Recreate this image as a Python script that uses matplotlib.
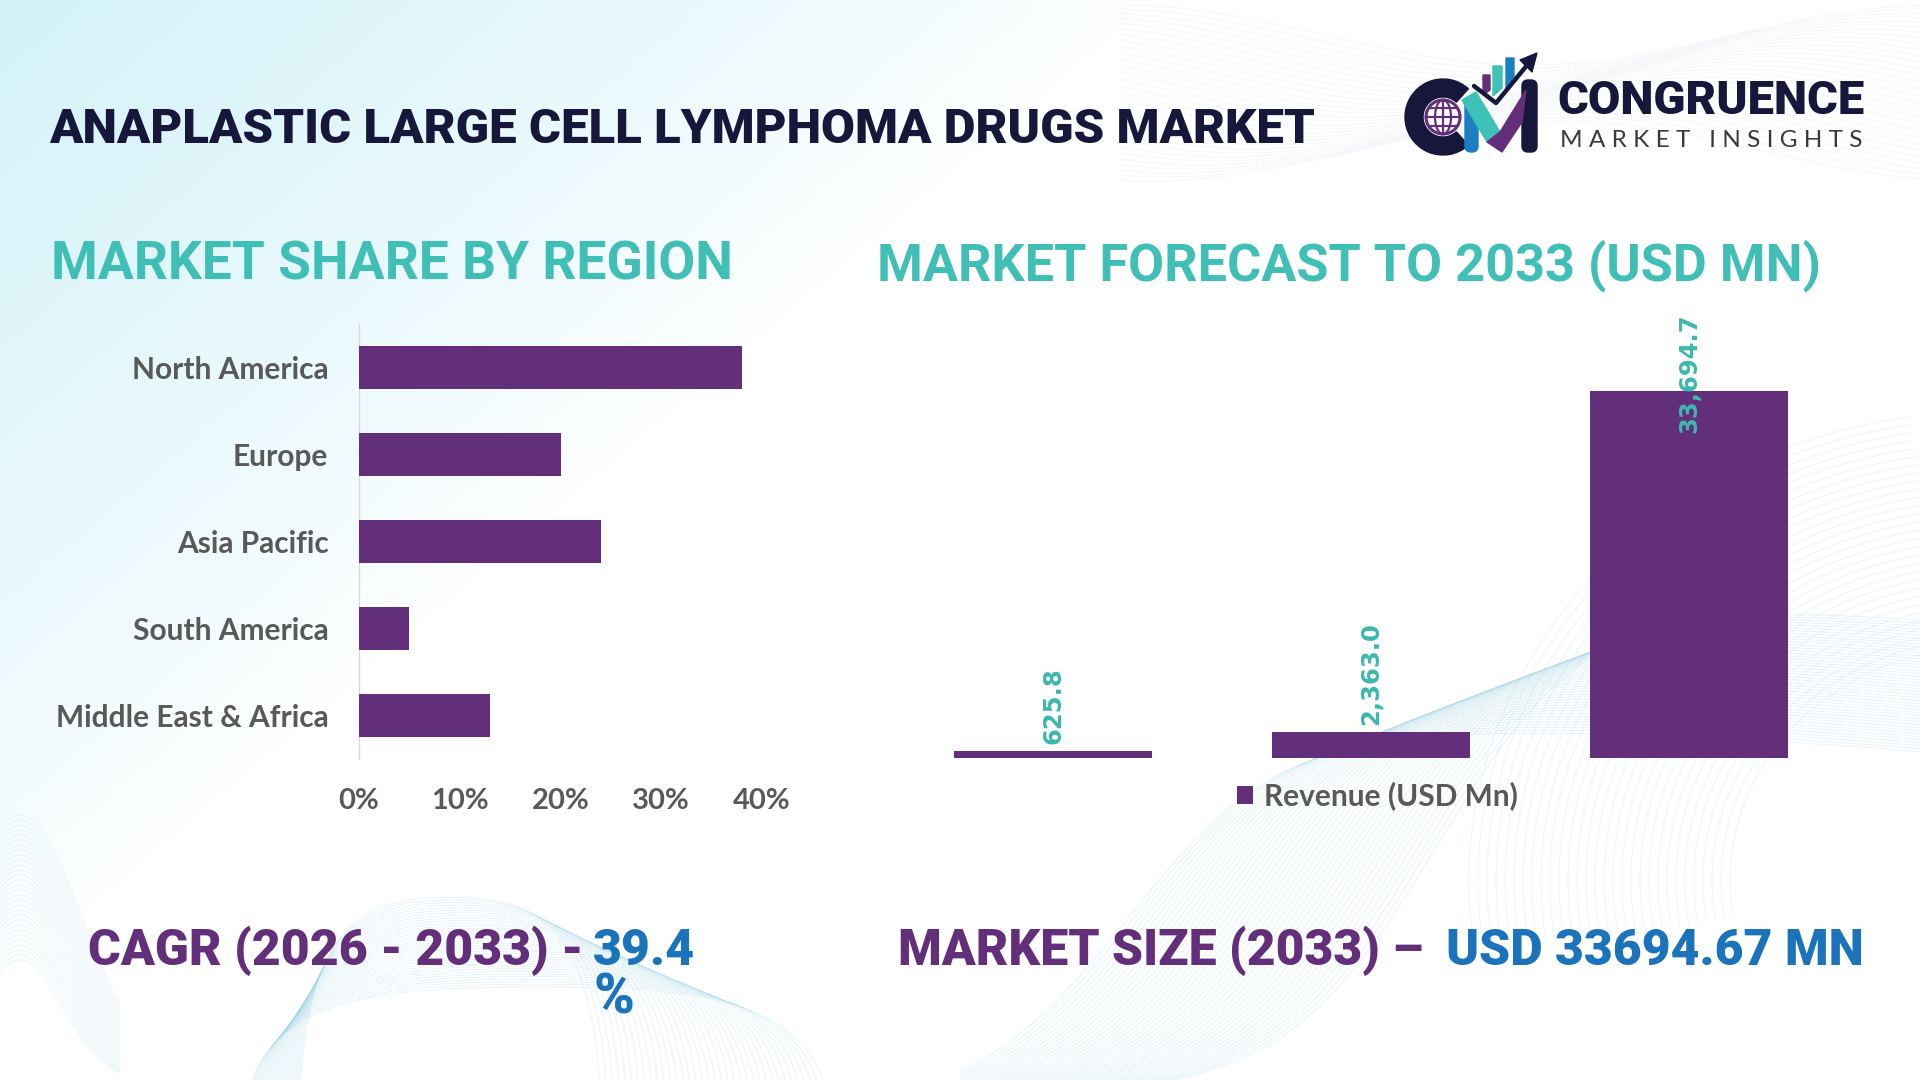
import numpy as np
import matplotlib
matplotlib.use("Agg")
import matplotlib.pyplot as plt
from matplotlib.patches import Circle, Wedge, Polygon, FancyBboxPatch

# ---------------- data ----------------
regions = ["North America", "Europe", "Asia Pacific", "South America", "Middle East & Africa"]
region_share = [38, 20, 24, 5, 13]
share_ticks = [0, 10, 20, 30, 40]
share_tick_labels = ["0%", "10%", "20%", "30%", "40%"]

forecast_points = [0, 1, 2]
revenue = [625.8, 2363.0, 33694.7]
revenue_labels = ["625.8", "2,363.0", "33,694.7"]
legend_label = "Revenue (USD Mn)"

title = "ANAPLASTIC LARGE CELL LYMPHOMA DRUGS MARKET"
left_header = "MARKET SHARE BY REGION"
right_header = "MARKET FORECAST TO 2033 (USD MN)"
cagr_prefix = "CAGR (2026 - 2033) -"
cagr_value = "39.4"
cagr_unit = "%"
size_prefix = "MARKET SIZE (2033) \u2013"
size_value = "USD 33694.67 MN"

# ---------------- style ----------------
PURPLE = "#632e7a"
TEAL = "#3fbfb5"
LABEL_TEAL = "#3cb8af"
NAVY = "#17173b"
BLUE = "#1b73bb"
GRAY = "#595959"
HEAVY = "Roboto"
LABEL_FONT = "Lato"

W, H = 1920, 1080
fig = plt.figure(figsize=(19.2, 10.8), dpi=100)
fig.patch.set_facecolor("white")

bg = fig.add_axes([0, 0, 1, 1], zorder=0)
yy, xx = np.mgrid[0:H:4, 0:W:4]
w = np.clip(1 - (xx / 1150 + yy / 980), 0, 1) ** 0.8
c0 = np.array([1.0, 1.0, 1.0])
c1 = np.array([0.83, 0.95, 0.975])
img = c0 + (c1 - c0) * w[..., None]
bg.imshow(img, extent=[0, W, H, 0], origin="upper", aspect="auto", zorder=0)
bg.set_xlim(0, W)
bg.set_ylim(H, 0)
bg.axis("off")

# decorative wave meshes
wave_c = "#8ccbe0"
t = np.linspace(0, np.pi, 200)
for k in range(36):
    a = 150 + 4 * k
    b = 250 - 3 * k
    cx = 450 + 2.5 * k
    bg.plot(cx + a * np.cos(t), 1110 - b * np.sin(t) * (1 + 0.15 * np.cos(2 * t)),
            color=wave_c, lw=0.6, alpha=0.22, zorder=1)
for k in range(30):
    xs = np.linspace(0, 120, 100)
    bg.plot(xs, 1080 - (120 + 5 * k) * np.exp(-((xs - 20) / (60 + k)) ** 2),
            color=wave_c, lw=0.6, alpha=0.18, zorder=1)
xs = np.linspace(960, 1920, 400)
for k in range(45):
    ys = 1090 - (360 + 3 * k) / (1 + np.exp(-(xs - (1130 + 7 * k)) / 75)) + 0.0004 * (xs - 1400) ** 2 * 0.2
    bg.plot(xs, ys, color=wave_c, lw=0.6, alpha=0.24, zorder=1)
tt = np.linspace(np.pi * 0.55, np.pi * 1.05, 200)
for k in range(30):
    r = 260 + 9 * k
    bg.plot(1990 + r * np.cos(tt), 880 - r * np.sin(tt) * 0.9, color=wave_c, lw=0.6, alpha=0.2, zorder=1)
xs2 = np.linspace(1120, 1920, 300)
for k in range(30):
    ys2 = 5 + 4 * k + 60 * np.sin((xs2 - 1120) / 260 + k * 0.05) ** 2
    bg.plot(xs2, ys2, color="#b5c7d9", lw=0.5, alpha=0.18, zorder=1)

# ---------------- logo ----------------
bg.add_patch(Wedge((1443, 117), 38, 48, 312, width=18, color=NAVY, zorder=5))
bg.add_patch(Circle((1443, 117), 17, facecolor="white", edgecolor=PURPLE, lw=2.2, zorder=6))
for dy in (-9, 0, 9):
    hw = np.sqrt(max(17 ** 2 - dy ** 2, 0))
    bg.plot([1443 - hw, 1443 + hw], [117 + dy, 117 + dy], color=PURPLE, lw=1.6, zorder=7)
bg.plot([1443, 1443], [100, 134], color=PURPLE, lw=1.6, zorder=7)
th = np.linspace(-np.pi / 2, np.pi / 2, 50)
bg.plot(1443 + 8 * np.cos(th), 117 + 17 * np.sin(th), color=PURPLE, lw=1.6, zorder=7)
bg.plot(1443 - 8 * np.cos(th), 117 + 17 * np.sin(th), color=PURPLE, lw=1.6, zorder=7)
bg.add_patch(FancyBboxPatch((1465, 100), 13, 52, boxstyle="round,pad=0,rounding_size=6", color="#1b7fc4", zorder=6))
bg.add_patch(Polygon([[1462, 100], [1476, 92], [1500, 132], [1487, 142]], closed=True, color="#3ec1b7", zorder=7))
bg.add_patch(Polygon([[1487, 142], [1500, 132], [1526, 90], [1522, 122], [1502, 152]], closed=True, color=PURPLE, zorder=8))
bg.add_patch(FancyBboxPatch((1522, 80), 15, 72, boxstyle="round,pad=0,rounding_size=6", color=NAVY, zorder=6))
bg.add_patch(Polygon([[1483, 75], [1490, 75], [1490, 90], [1483, 95]], closed=True, color=PURPLE, zorder=5))
bg.add_patch(Polygon([[1493, 66], [1502, 66], [1502, 88], [1493, 96]], closed=True, color="#3ec1b7", zorder=5))
bg.add_patch(Polygon([[1506, 58], [1514, 58], [1514, 80], [1506, 88]], closed=True, color="#1b7fc4", zorder=5))
bg.plot([1474, 1496, 1528], [86, 103, 64], color=NAVY, lw=3.2, solid_capstyle="round", zorder=9)
bg.add_patch(Polygon([[1537, 53], [1520, 60], [1532, 72]], closed=True, color=NAVY, zorder=9))

# ---------------- charts ----------------
ax1 = fig.add_axes([359 / W, 1 - 759 / H, 403 / W, 435 / H], zorder=3)
ax1.set_facecolor("none")
ypos = np.arange(len(regions))
ax1.barh(ypos, region_share, height=0.49, color=PURPLE, zorder=3)
ax1.set_ylim(len(regions) - 0.5, -0.5)
ax1.set_xlim(share_ticks[0], share_ticks[-1])
ax1.set_yticks(ypos)
ax1.set_yticklabels(regions)
ax1.set_xticks(share_ticks)
ax1.set_xticklabels(share_tick_labels)
for s in ["top", "right", "bottom"]:
    ax1.spines[s].set_visible(False)
ax1.spines["left"].set_color("#d9d9d9")
ax1.spines["left"].set_linewidth(1.0)
ax1.tick_params(axis="y", length=0, pad=22, labelsize=21.5, labelcolor=GRAY)
ax1.tick_params(axis="x", length=0, pad=21, labelsize=21, labelcolor=GRAY)
for lab in ax1.get_xticklabels() + ax1.get_yticklabels():
    lab.set_fontfamily(LABEL_FONT)
    lab.set_fontweight("bold")

ax2 = fig.add_axes([894 / W, 1 - 758 / H, 954 / W, 436 / H], zorder=3)
ax2.set_facecolor("none")
bars = ax2.bar(forecast_points, revenue, width=0.623, color=PURPLE, label=legend_label, zorder=3)
ax2.set_xlim(-0.5, len(revenue) - 0.5)
ax2.set_ylim(0, 40000)
ax2.axis("off")

fig.canvas.draw()
renderer = fig.canvas.get_renderer()
axbb = ax2.get_window_extent(renderer)
lab_kw = dict(rotation=90, ha="center", color=LABEL_TEAL, fontsize=17.5,
              fontweight="bold", family="DejaVu Sans", zorder=5)
for xi, v, s in zip(forecast_points, revenue, revenue_labels):
    tx = ax2.annotate(s, (xi, v), xytext=(0, 5), textcoords="offset points", va="bottom", **lab_kw)
    bb = tx.get_window_extent(renderer)
    if bb.y1 > axbb.y1 + 2:
        tx.remove()
        ax2.annotate(s, (xi, ax2.get_ylim()[1]), xytext=(0, 6), textcoords="offset points",
                     va="top", annotation_clip=False, **lab_kw)

fig.legend(handles=[bars], labels=[legend_label], loc="center",
           bbox_to_anchor=(1377 / W, 1 - 796 / H), frameon=False,
           handlelength=0.55, handleheight=0.55, handletextpad=0.35,
           prop={"family": LABEL_FONT, "weight": "bold", "size": 21.5}, labelcolor=GRAY)

# ---------------- texts ----------------
def fit_text(x_px, base_px, s, target_w, color, family, weight, fs0=30.0, fs=None, ha="left"):
    tx = fig.text(x_px / W, 1 - base_px / H, s, fontsize=fs0 if fs is None else fs,
                  color=color, family=family, weight=weight, ha=ha, va="baseline", zorder=10)
    if fs is None:
        bb = tx.get_window_extent(renderer)
        tx.set_fontsize(fs0 * target_w / bb.width)
    return tx

fit_text(49, 143, title, 1264, NAVY, HEAVY, "black")
fit_text(51, 280, left_header, 681, TEAL, HEAVY, "bold")
fit_text(877, 280, right_header, 943, TEAL, HEAVY, "bold")

t1 = fit_text(88, 965, cagr_prefix, 495, PURPLE, HEAVY, "black")
fs_c = t1.get_fontsize()
fit_text(593, 965, cagr_value, 0, BLUE, HEAVY, "black", fs=fs_c)
fit_text(594, 1014, cagr_unit, 0, BLUE, HEAVY, "black", fs=fs_c * 1.1)

# market size line: one size for both parts, spanning the reference extent
probe = fit_text(898, 965, size_prefix + "  " + size_value, 966, PURPLE, HEAVY, "black")
fs_m = probe.get_fontsize()
probe.remove()
fit_text(898, 965, size_prefix, 0, PURPLE, HEAVY, "black", fs=fs_m)
fit_text(1864, 965, size_value, 0, BLUE, HEAVY, "black", fs=fs_m, ha="right")

fit_text(1557, 114, "CONGRUENCE", 307, NAVY, HEAVY, "black")
fit_text(1560, 147, "M A R K E T   I N S I G H T S", 301, "#3a3a3a", "Lato", "normal")

fig.savefig("out.png", dpi=100, facecolor="white")
